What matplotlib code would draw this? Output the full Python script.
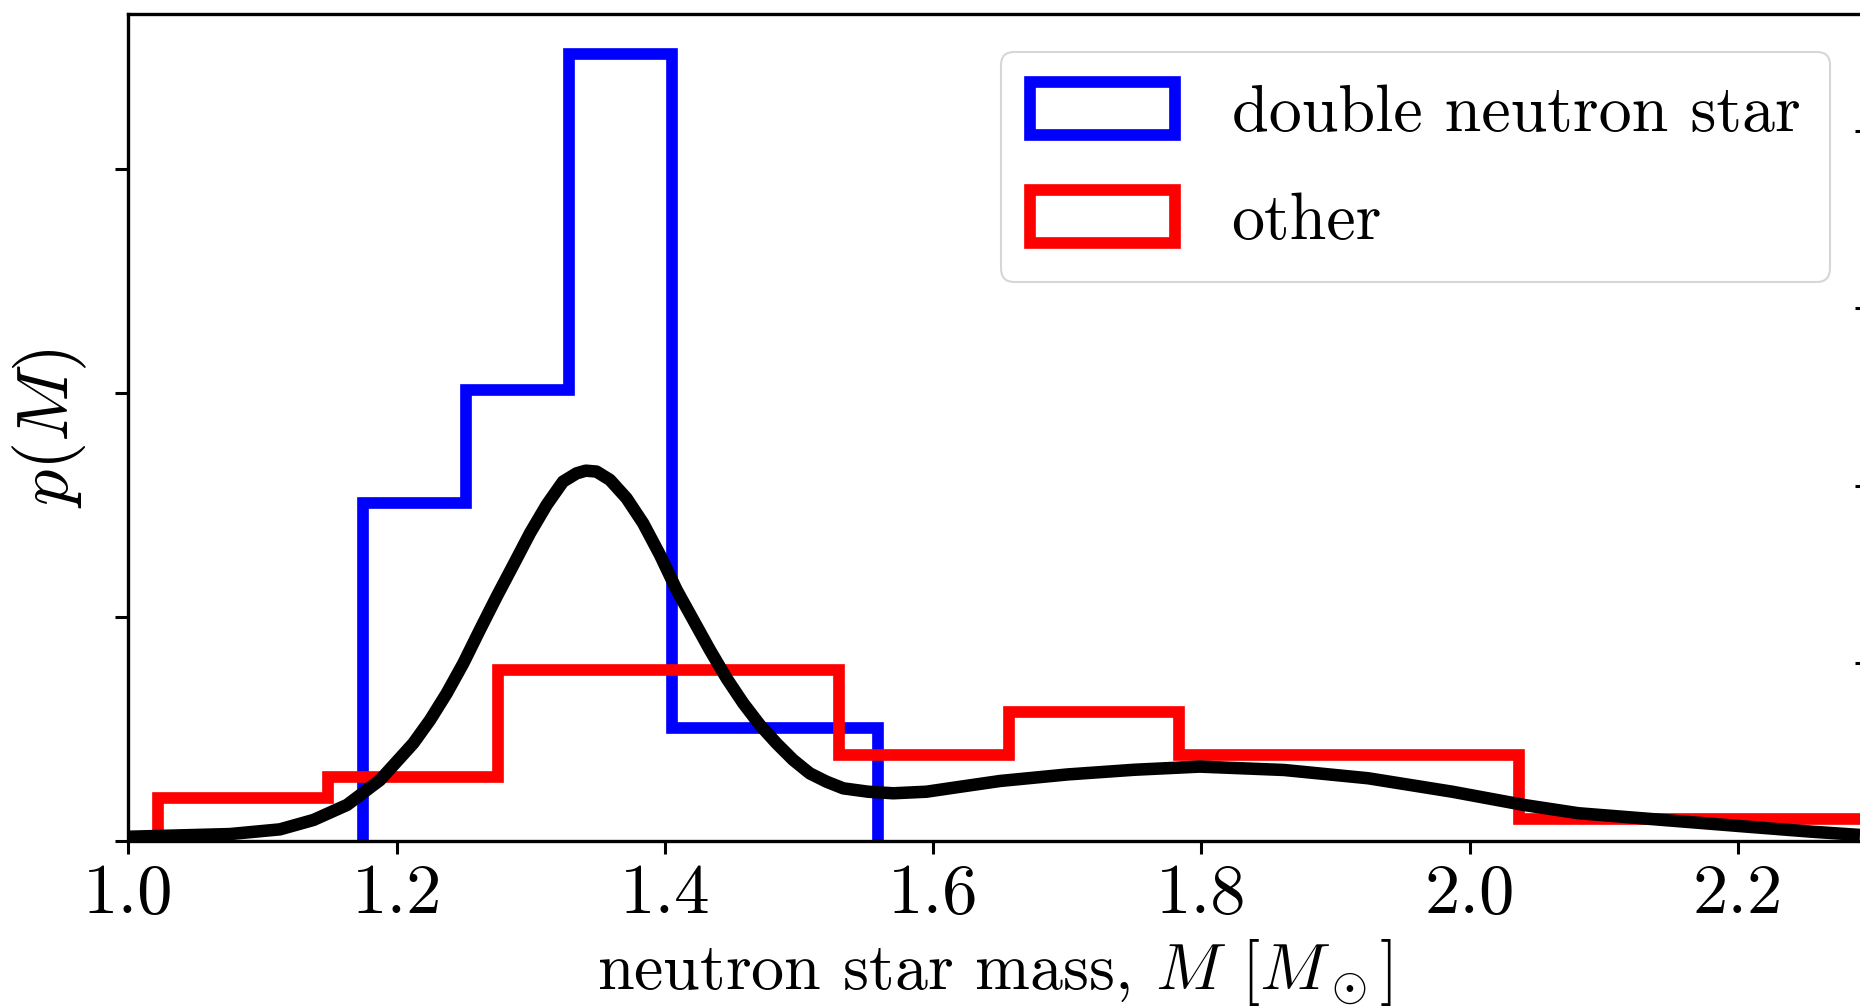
import matplotlib
matplotlib.use("Agg")
import matplotlib.pyplot as plt
from matplotlib.patches import Patch

plt.rcParams['font.family'] = 'serif'
plt.rcParams['font.serif'] = ['cmr10']
plt.rcParams['mathtext.fontset'] = 'cm'
plt.rcParams['axes.unicode_minus'] = False
plt.rcParams['axes.formatter.use_mathtext'] = True

# ---- data (y in units of the left-axis tick spacing) ----
dns_edges = [1.1747, 1.2515, 1.3283, 1.4051, 1.4819, 1.5587]
dns_heights = [1.508, 2.011, 3.513, 0.503, 0.503]

other_edges = [1.0219, 1.1488, 1.2757, 1.4026, 1.5295, 1.6564, 1.7833,
               1.9102, 2.0371, 2.1640, 2.2910, 2.4180]
other_heights = [0.193, 0.287, 0.763, 0.763, 0.384, 0.575, 0.384,
                 0.384, 0.0965, 0.0965, 0.0965]

kde_x = [1.000, 1.0757, 1.113, 1.138, 1.163, 1.1876, 1.2124, 1.2249, 1.2373,
         1.2497, 1.262, 1.2745, 1.287, 1.2994, 1.3118, 1.324, 1.3341, 1.341,
         1.349, 1.359, 1.3714, 1.3838, 1.3963, 1.4087, 1.4211, 1.4335, 1.446,
         1.4584, 1.4708, 1.4832, 1.4956, 1.508, 1.5204, 1.533, 1.5515, 1.5702,
         1.595, 1.620, 1.650, 1.700, 1.750, 1.7988, 1.8616, 1.9243, 1.987,
         2.0403, 2.081, 2.144, 2.2068, 2.2538, 2.291]
kde_y = [0.019, 0.031, 0.052, 0.094, 0.161, 0.272, 0.436, 0.540, 0.659,
         0.793, 0.942, 1.090, 1.232, 1.374, 1.500, 1.604, 1.641, 1.653,
         1.649, 1.612, 1.530, 1.418, 1.277, 1.121, 0.987, 0.853, 0.726,
         0.615, 0.518, 0.436, 0.362, 0.302, 0.265, 0.235, 0.220, 0.213,
         0.220, 0.242, 0.268, 0.297, 0.318, 0.332, 0.317, 0.280, 0.220,
         0.161, 0.124, 0.094, 0.064, 0.042, 0.027]

series_labels = ['double neutron star', 'other']
series_colors = ['#0000ff', '#ff0000']

left_ticks = [0, 1, 2, 3]
right_ticks = [0, 1, 2, 3, 4]
x_ticks = [1.0, 1.2, 1.4, 1.6, 1.8, 2.0, 2.2]
x_ticklabels = ["1.0", "1.2", "1.4", "1.6", "1.8", "2.0", "2.2"]

W, H = 1860, 1007
fig = plt.figure(figsize=(W / 100, H / 100), dpi=100)
ax_left_px, ax_bottom_px, ax_top_px = 128.4, 841.0, 14.3
ax = fig.add_axes([ax_left_px / W, (H - ax_bottom_px) / H,
                   1.0 - ax_left_px / W, (ax_bottom_px - ax_top_px) / H])

lw = 8.4
ax.stairs(dns_heights, dns_edges, color=series_colors[0], linewidth=lw, zorder=2)
ax.stairs(other_heights, other_edges, color=series_colors[1], linewidth=lw, zorder=3)
ax.plot(kde_x, kde_y, color='black', linewidth=9.0, zorder=4,
        solid_joinstyle='round', solid_capstyle='butt')

ax.set_xlim(1.0, 2.291)
ax.set_ylim(0, 3.69)
ax.set_xticks(x_ticks)
ax.set_xticklabels(x_ticklabels)
ax.set_yticks(left_ticks)
ax.set_yticklabels([])
ax.tick_params(axis='both', length=9.1, width=2.2, labelsize=51, pad=7)
ax.spines['right'].set_visible(False)
for s in ['left', 'top', 'bottom']:
    ax.spines[s].set_linewidth(2.4)

ax.set_xlabel(r'neutron star mass, $M$ $[M_\odot]$', fontsize=47.5, labelpad=7)
ax.set_ylabel(r'$p(M)$', fontsize=52, labelpad=12)

handles = [Patch(facecolor='white', edgecolor=c, linewidth=lw) for c in series_colors]
leg = ax.legend(handles, series_labels, loc='upper right', fontsize=47.5,
                bbox_to_anchor=(1830 / W, 1 - 52 / H),
                bbox_transform=fig.transFigure, borderaxespad=0,
                handlelength=2.2, handleheight=0.86,
                labelspacing=0.69, handletextpad=0.85, borderpad=0.45)
leg.get_frame().set_linewidth(1.5)

ax2 = ax.twinx()
ax2.set_ylim(0, 4.657)
ax2.set_yticks(right_ticks)
ax2.set_yticklabels([])
ax2.tick_params(axis='y', direction='in', length=3.6, width=2.2)
for s in ax2.spines.values():
    s.set_visible(False)

fig.savefig('out.png', dpi=100)
